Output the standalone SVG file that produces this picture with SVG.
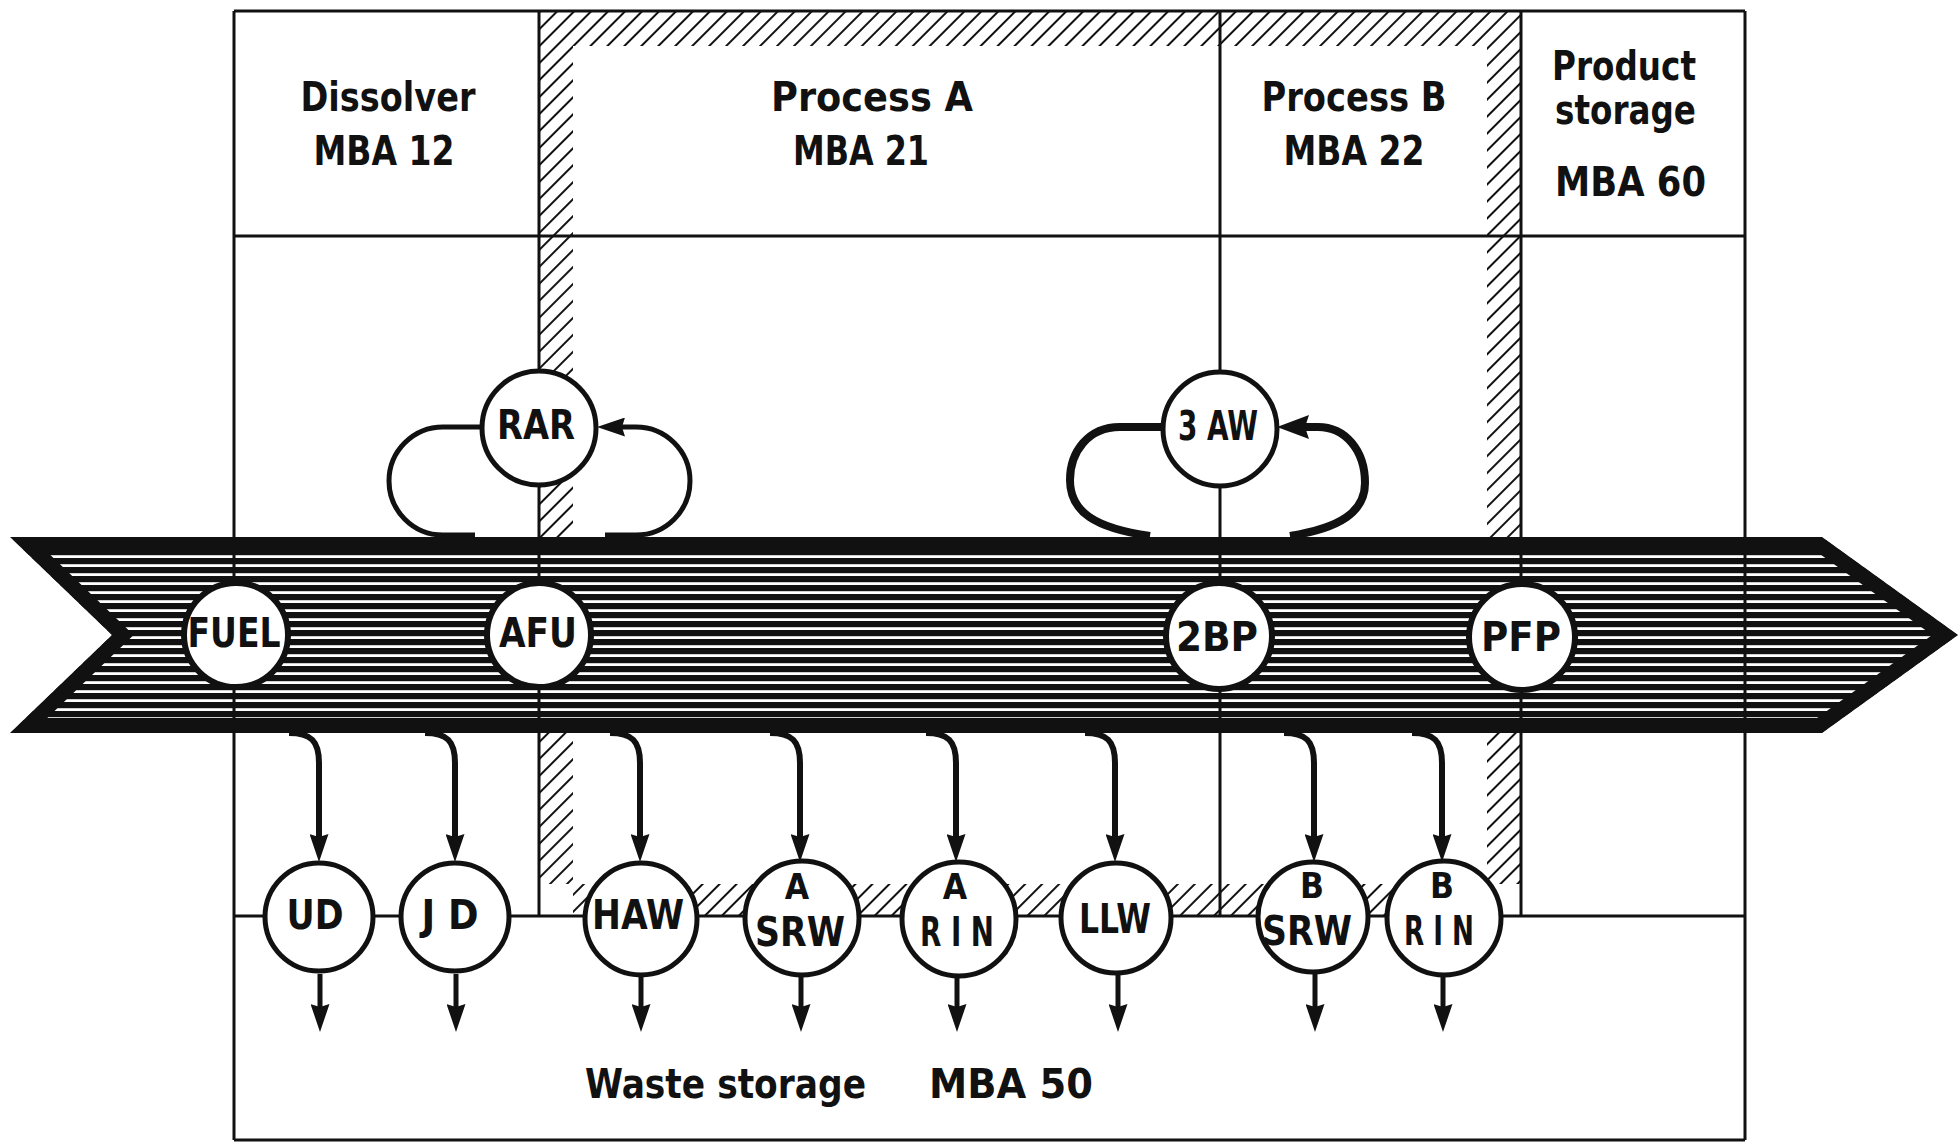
<svg xmlns="http://www.w3.org/2000/svg" width="1960" height="1143" viewBox="0 0 1960 1143">
<defs>
<style>
.ln{stroke:#111;stroke-width:3;fill:none}
.node circle{fill:#fff;stroke:#111;stroke-width:5}
.band circle{stroke-width:6}
.t{font-family:"DejaVu Sans Condensed","DejaVu Sans",sans-serif;font-weight:bold;fill:#111}
.hd{font-size:41px}
.nl{font-size:41px;text-anchor:middle}
.nl2{font-size:40px;text-anchor:middle}
.sm{font-size:35px;text-anchor:middle}
.mid{text-anchor:middle}
.cn{stroke:#111;stroke-width:6;fill:none}
.out{stroke:#111;stroke-width:5;fill:none}
</style>
<pattern id="hatch" width="12" height="12" patternUnits="userSpaceOnUse" patternTransform="rotate(45)">
<line x1="6" y1="0" x2="6" y2="12" stroke="#111" stroke-width="2"/>
</pattern>
<pattern id="stripes" width="20" height="9" patternUnits="userSpaceOnUse">
<rect width="20" height="9" fill="#fff"/>
<rect width="20" height="6.2" fill="#111"/>
</pattern>
<clipPath id="bandclip"><polygon points="10,537 1822,537 1958,635 1822,733 10,733 112,635"/></clipPath>
<marker id="arr" viewBox="0 0 28 19" markerWidth="28" markerHeight="19" refX="14" refY="9.5" orient="auto" markerUnits="userSpaceOnUse">
<path d="M0,0 L28,9.5 L0,19 L3,9.5 z" fill="#111"/>
</marker>
<marker id="arrL" viewBox="0 0 32 24" markerWidth="32" markerHeight="24" refX="16" refY="12" orient="auto" markerUnits="userSpaceOnUse">
<path d="M0,0 L32,12 L0,24 L4,12 z" fill="#111"/>
</marker>
</defs>
<rect width="1960" height="1143" fill="#fff"/>
<g id="hatching" fill="url(#hatch)">
<rect x="539" y="11" width="982" height="35"/>
<rect x="539" y="46" width="34" height="838"/>
<rect x="1487" y="46" width="34" height="838"/>
<rect x="573" y="884" width="914" height="32"/>
</g>
<g id="frame" class="ln">
<line x1="234" y1="11" x2="1745" y2="11"/>
<line x1="234" y1="236" x2="1745" y2="236"/>
<line x1="234" y1="916" x2="1745" y2="916"/>
<line x1="234" y1="1140" x2="1745" y2="1140"/>
</g>
<g id="flow-band">
<polygon points="10,537 1822,537 1958,635 1822,733 10,733 112,635" fill="url(#stripes)" stroke="#111" stroke-width="30" clip-path="url(#bandclip)"/>
</g>
<g id="dividers" class="ln">
<line x1="234" y1="11" x2="234" y2="1140"/>
<line x1="539" y1="11" x2="539" y2="372"/>
<line x1="539" y1="484" x2="539" y2="916"/>
<line x1="1220" y1="11" x2="1220" y2="373"/>
<line x1="1220" y1="485" x2="1220" y2="916"/>
<line x1="1521" y1="11" x2="1521" y2="916"/>
<line x1="1745" y1="11" x2="1745" y2="1140"/>
</g>
<g id="connectors">
<path class="out" d="M482,427 H443 A54,54 0 0 0 443,535 H475"/>
<path class="out" d="M605,535 H636 A54,54 0 0 0 636,427 H611" marker-end="url(#arr)"/>
<path class="cn" style="stroke-width:8" d="M1163,427 L1120,427 C1088,427 1070,452 1070,480 C1070,512 1095,528 1150,536"/>
<path class="cn" style="stroke-width:8" d="M1290,536 C1340,528 1365,512 1365,483 C1365,450 1345,427 1318,427 L1293,427" marker-end="url(#arrL)"/>
<path class="cn" d="M289,733 C311,733 319,741 319,763 V848" marker-end="url(#arr)"/>
<path class="cn" d="M425,733 C447,733 455,741 455,763 V848" marker-end="url(#arr)"/>
<path class="cn" d="M610,733 C632,733 640,741 640,763 V848" marker-end="url(#arr)"/>
<path class="cn" d="M770,733 C792,733 800,741 800,763 V848" marker-end="url(#arr)"/>
<path class="cn" d="M926,733 C948,733 956,741 956,763 V848" marker-end="url(#arr)"/>
<path class="cn" d="M1085,733 C1107,733 1115,741 1115,763 V848" marker-end="url(#arr)"/>
<path class="cn" d="M1284,733 C1306,733 1314,741 1314,763 V848" marker-end="url(#arr)"/>
<path class="cn" d="M1412,733 C1434,733 1442,741 1442,763 V848" marker-end="url(#arr)"/>
<path class="out" d="M320,974 V1018" marker-end="url(#arr)"/>
<path class="out" d="M456,974 V1018" marker-end="url(#arr)"/>
<path class="out" d="M641,974 V1018" marker-end="url(#arr)"/>
<path class="out" d="M801,974 V1018" marker-end="url(#arr)"/>
<path class="out" d="M957,974 V1018" marker-end="url(#arr)"/>
<path class="out" d="M1118,974 V1018" marker-end="url(#arr)"/>
<path class="out" d="M1315,974 V1018" marker-end="url(#arr)"/>
<path class="out" d="M1443,974 V1018" marker-end="url(#arr)"/>
</g>
<g id="node-FUEL" class="node band"><circle cx="236" cy="635" r="52"/><text class="t nl" x="234" y="647" textLength="93" lengthAdjust="spacingAndGlyphs">FUEL</text></g>
<g id="node-AFU" class="node band"><circle cx="539" cy="635" r="52"/><text class="t nl" x="538" y="647" textLength="78" lengthAdjust="spacingAndGlyphs">AFU</text></g>
<g id="node-2BP" class="node band"><circle cx="1219" cy="636" r="53"/><text class="t nl" x="1217" y="651" textLength="82" lengthAdjust="spacingAndGlyphs">2BP</text></g>
<g id="node-PFP" class="node band"><circle cx="1522" cy="637" r="53"/><text class="t nl" x="1521" y="651" textLength="80" lengthAdjust="spacingAndGlyphs">PFP</text></g>
<g id="node-RAR" class="node"><circle cx="539" cy="428" r="57"/><text class="t nl" x="536" y="439" textLength="78" lengthAdjust="spacingAndGlyphs">RAR</text></g>
<g id="node-3AW" class="node"><circle cx="1220" cy="429" r="57"/><text class="t nl" x="1218" y="440" textLength="80" lengthAdjust="spacingAndGlyphs">3 AW</text></g>
<g id="node-UD" class="node"><circle cx="319" cy="917" r="54"/><text class="t nl" x="315" y="929" textLength="57" lengthAdjust="spacingAndGlyphs">UD</text></g>
<g id="node-JD" class="node"><circle cx="455" cy="917" r="54"/><text class="t nl" x="450" y="929" textLength="57" lengthAdjust="spacingAndGlyphs">J D</text></g>
<g id="node-HAW" class="node"><circle cx="641" cy="919" r="56"/><text class="t nl" x="638" y="929" textLength="92" lengthAdjust="spacingAndGlyphs">HAW</text></g>
<g id="node-ASRW" class="node"><circle cx="802" cy="918" r="57"/><text class="t sm" x="797" y="899">A</text><text class="t nl2" x="800" y="946" textLength="90" lengthAdjust="spacingAndGlyphs">SRW</text></g>
<g id="node-ARIN" class="node"><circle cx="959" cy="919" r="57"/><text class="t sm" x="955" y="899">A</text><text class="t nl2" x="957" y="946" textLength="74" lengthAdjust="spacingAndGlyphs">R I N</text></g>
<g id="node-LLW" class="node"><circle cx="1116" cy="918" r="55"/><text class="t nl" x="1115" y="933" textLength="72" lengthAdjust="spacingAndGlyphs">LLW</text></g>
<g id="node-BSRW" class="node"><circle cx="1313" cy="917" r="55"/><text class="t sm" x="1312" y="898">B</text><text class="t nl2" x="1307" y="945" textLength="90" lengthAdjust="spacingAndGlyphs">SRW</text></g>
<g id="node-BRIN" class="node"><circle cx="1444" cy="918" r="57"/><text class="t sm" x="1442" y="898">B</text><text class="t nl2" x="1439" y="945" textLength="70" lengthAdjust="spacingAndGlyphs">R I N</text></g>
<g id="area-labels" class="t hd">
<text class="mid" x="388" y="111" textLength="175" lengthAdjust="spacingAndGlyphs">Dissolver</text>
<text class="mid" x="384" y="165" textLength="141" lengthAdjust="spacingAndGlyphs">MBA 12</text>
<text class="mid" x="872" y="111" textLength="202" lengthAdjust="spacingAndGlyphs">Process  A</text>
<text class="mid" x="861" y="165" textLength="136" lengthAdjust="spacingAndGlyphs">MBA 21</text>
<text class="mid" x="1354" y="111" textLength="185" lengthAdjust="spacingAndGlyphs">Process B</text>
<text class="mid" x="1354" y="165" textLength="141" lengthAdjust="spacingAndGlyphs">MBA 22</text>
<text x="1552" y="80" textLength="144" lengthAdjust="spacingAndGlyphs">Product</text>
<text x="1555" y="124" textLength="141" lengthAdjust="spacingAndGlyphs">storage</text>
<text x="1555" y="196" textLength="151" lengthAdjust="spacingAndGlyphs">MBA  60</text>
<text x="585" y="1098" textLength="281" lengthAdjust="spacingAndGlyphs">Waste  storage</text>
<text x="929" y="1098" textLength="164" lengthAdjust="spacingAndGlyphs">MBA  50</text>
</g>
</svg>
